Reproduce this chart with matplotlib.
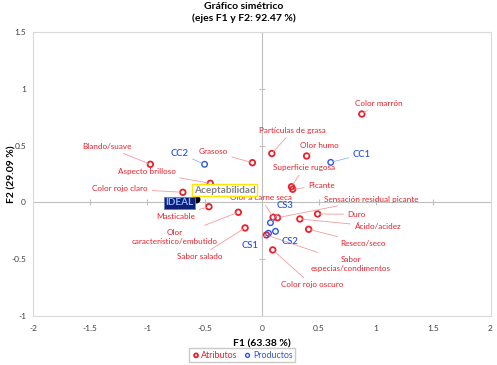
import matplotlib.pyplot as plt

plt.rcParams['font.family'] = ['Lato', 'DejaVu Sans']

# attribute coordinates (F1, F2)
attr_names = ['Color marrón', 'Partículas de grasa', 'Olor humo', 'Superficie rugosa',
              'Grasoso', 'Blando/suave', 'Aspecto brilloso', 'Color rojo claro',
              'Masticable', 'Olor\ncaracterístico/embutido', 'Sabor salado',
              'Olor a carne seca', 'Picante', 'Sensación residual picante', 'Duro',
              'Ácido/acidez', 'Reseco/seco', 'Sabor\nespecias/condimentos', 'Color rojo oscuro']
attr_x = [0.875, 0.088, 0.392, 0.26, -0.082, -0.974, -0.45, -0.69, -0.462, -0.205,
          -0.146, 0.099, 0.27, 0.138, 0.488, 0.333, 0.41, 0.041, 0.096]
attr_y = [0.778, 0.43, 0.408, 0.137, 0.349, 0.335, 0.167, 0.088, -0.039, -0.088,
          -0.226, -0.132, 0.115, -0.136, -0.103, -0.147, -0.238, -0.288, -0.42]

# product coordinates
prod_names = ['CC1', 'CC2', 'CS1', 'CS2', 'CS3']
prod_x = [0.603, -0.5, 0.059, 0.12, 0.076]
prod_y = [0.352, 0.335, -0.273, -0.256, -0.18]

# preference / ideal point
accept_x, accept_y = -0.573, 0.026

# where the labels sit (data coords)
attr_lab = [(1.02, 0.872), (0.266, 0.631), (0.503, 0.499), (0.368, 0.305),
            (-0.427, 0.446), (-1.357, 0.49), (-1.006, 0.267), (-1.237, 0.12),
            (-0.754, -0.121), (-0.763, -0.306), (-0.544, -0.479),
            (-0.009, 0.038), (0.524, 0.15), (0.954, 0.026), (0.831, -0.106),
            (1.015, -0.215), (0.889, -0.361), (0.781, -0.544), (0.439, -0.729)]
prod_lab = [(0.877, 0.423), (-0.719, 0.432), (-0.105, -0.385), (0.246, -0.344), (0.204, -0.026)]

RED = '#E8202A'
BLUE = '#2B55E6'

fig = plt.figure(figsize=(4.97, 3.65), dpi=100)
ax = fig.add_axes([0.0664, 0.135, 0.9206, 0.777])

ax.set_xlim(-2, 2)
ax.set_ylim(-1, 1.5)

# zero lines with small ticks
ax.axhline(0, color='#BFBFBF', lw=0.8, zorder=1)
ax.axvline(0, color='#BFBFBF', lw=0.8, zorder=1)
xt = [-1.5, -1, -0.5, 0.5, 1, 1.5]
yt = [-0.5, 0.5, 1]
ax.plot(xt, [0] * len(xt), ls='none', marker='|', ms=5, mew=0.8, color='#BFBFBF', zorder=1)
ax.plot([0] * len(yt), yt, ls='none', marker='_', ms=5, mew=0.8, color='#BFBFBF', zorder=1)

ax.scatter(attr_x, attr_y, s=16, facecolors='none', edgecolors=RED, linewidths=1.3,
           zorder=3, label='Atributos')
ax.scatter(prod_x, prod_y, s=16, facecolors='none', edgecolors=BLUE, linewidths=1.0,
           zorder=3, label='Productos')
ax.scatter([accept_x], [accept_y], s=22, color='black', zorder=4)

for name, x, y, (lx, ly) in zip(attr_names, attr_x, attr_y, attr_lab):
    ax.annotate(name, xy=(x, y), xytext=(lx, ly), ha='center', va='center',
                fontsize=5.9, color=RED, linespacing=1.45,
                arrowprops=dict(arrowstyle='-', color='#F29C9C', lw=0.6,
                                shrinkA=1, shrinkB=2))

for name, x, y, (lx, ly) in zip(prod_names, prod_x, prod_y, prod_lab):
    ax.annotate(name, xy=(x, y), xytext=(lx, ly), ha='center', va='center',
                fontsize=6.8, color=BLUE, fontweight='semibold',
                arrowprops=dict(arrowstyle='-', color='#9DB3EE', lw=0.6,
                                shrinkA=1, shrinkB=2))

ax.text(-0.325, 0.108, 'Aceptabilidad', ha='center', va='center', fontsize=7.2,
        color='#808080', fontweight='bold', zorder=5,
        bbox=dict(boxstyle='square,pad=0.15', fc='white', ec='#FFE600', lw=1.0))
ax.text(-0.72, -0.002, 'IDEAL', ha='center', va='center', fontsize=7.2,
        color='#8FB4FF', fontweight='bold', zorder=5,
        bbox=dict(boxstyle='square,pad=0.15', fc='#0E1F78', ec='#6A7FC0', lw=0.6))

ax.set_xticks([-2, -1.5, -1, -0.5, 0, 0.5, 1, 1.5, 2])
ax.set_xticklabels(['-2', '-1.5', '-1', '-0.5', '0', '0.5', '1', '1.5', '2'])
ax.set_yticks([-1, -0.5, 0, 0.5, 1, 1.5])
ax.set_yticklabels(['-1', '-0.5', '0', '0.5', '1', '1.5'])
ax.tick_params(length=0, labelsize=6, colors='#404040')
ax.tick_params(axis='x', pad=7)
ax.tick_params(axis='y', pad=5)
for sp in ax.spines.values():
    sp.set_color('#D9D9D9')
    sp.set_linewidth(0.8)

ax.set_xlabel('F1 (63.38 %)', fontsize=7.5, fontweight='bold', labelpad=5)
ax.set_ylabel('F2 (29.09 %)', fontsize=7.5, fontweight='bold')
ax.yaxis.set_label_coords(-0.037, 0.5)
fig.suptitle('Gráfico simétrico\n(ejes F1 y F2: 92.47 %)', x=0.49, y=0.995,
             fontsize=7.5, fontweight='bold', linespacing=1.4)

leg = fig.legend(loc='lower center', bbox_to_anchor=(0.487, -0.005), ncol=2, fontsize=6.4,
                 frameon=True, fancybox=False, edgecolor='#BFBFBF',
                 handletextpad=0.1, columnspacing=0.6, borderpad=0.3, markerscale=0.7,
                 handlelength=1.0)
for txt, c in zip(leg.get_texts(), [RED, BLUE]):
    txt.set_color(c)

fig.savefig('out.png', dpi=100)
